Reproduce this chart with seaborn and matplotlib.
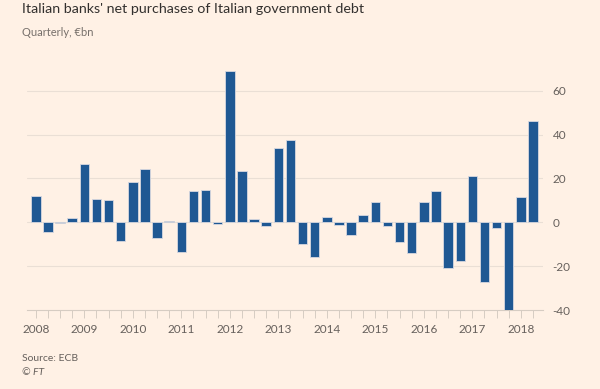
import matplotlib
matplotlib.use("Agg")
import matplotlib.pyplot as plt
import seaborn as sns
import pandas as pd

years = list(range(2008, 2019))
quarters = [f"{y} Q{q}" for y in years for q in range(1, 5)][:42]
values = [12.0, -4.5, -0.5, 1.8,
          26.5, 10.5, 10.0, -8.7,
          18.3, 24.2, -7.0, 0.6,
          -13.5, 14.3, 14.6, -0.9,
          69.2, 23.4, 1.7, -1.7,
          34.1, 37.7, -9.9, -16.0,
          2.3, -1.2, -5.6, 3.5,
          9.3, -1.5, -9.1, -14.0,
          9.4, 14.2, -21.0, -17.5,
          21.3, -27.4, -2.4, -40.0,
          11.7, 46.0]
year_labels = [str(y) for y in years]
y_ticks = [-40, -20, 0, 20, 40, 60]

BG = "#fff1e5"
BAR = "#1f5893"
GRID = "#eadfd5"
TXT = "#66605c"

sns.set_theme(style="white")
plt.rcParams["font.family"] = ["Lato", "DejaVu Sans"]

df = pd.DataFrame({"quarter": quarters, "value": values})

fig = plt.figure(figsize=(6, 3.89), dpi=100, facecolor=BG)
ax = fig.add_axes([0.0445, 0.203, 0.86, 0.62])
ax.set_facecolor(BG)

sns.barplot(data=df, x="quarter", y="value", color=BAR, width=0.78,
            edgecolor="#d8d8e0", linewidth=0.6, saturation=1, ax=ax, zorder=3)

ax.set_ylim(-40, 70)
ax.set_xlim(-0.75, 41.8)
ax.set_yticks(y_ticks)
ax.set_yticklabels([str(v) for v in y_ticks])
ax.yaxis.tick_right()
ax.tick_params(axis="y", length=0, pad=7, labelsize=8.5, labelcolor=TXT)
for yv in y_ticks[1:]:
    ax.axhline(yv, color=GRID, lw=0.8, zorder=1)

ax.set_xticks(range(len(quarters)))
ax.set_xticklabels([quarters[i][:4] if i % 4 == 0 else "" for i in range(len(quarters))])
ax.tick_params(axis="x", length=6, width=0.7, color="#d6ccc2", pad=4,
               labelsize=8.5, labelcolor=TXT, bottom=True)

for s in ["top", "right", "left"]:
    ax.spines[s].set_visible(False)
ax.spines["bottom"].set_color("#d6ccc2")
ax.spines["bottom"].set_linewidth(0.8)
ax.set_xlabel("")
ax.set_ylabel("")

fig.text(0.037, 0.993, "Italian banks' net purchases of Italian government debt",
         fontsize=10.3, color="#33302e", ha="left", va="top")
fig.text(0.037, 0.930, "Quarterly, €bn", fontsize=8, color="#77706b", ha="left", va="top")
fig.text(0.037, 0.078, "Source: ECB", fontsize=7.5, color=TXT, ha="left", va="center")
fig.text(0.037, 0.043, "© FT", fontsize=7.5, color=TXT, ha="left", va="center", style="italic")

fig.savefig("out.png", dpi=100, facecolor=BG)
